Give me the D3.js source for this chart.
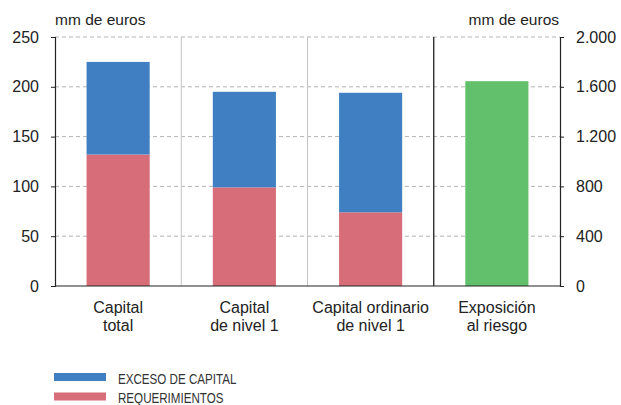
<!DOCTYPE html>
<html><head><meta charset="utf-8">
<script src="https://cdn.jsdelivr.net/npm/d3@7"></script>
<style>
body{margin:0;background:#fff;}
text{font-family:"Liberation Sans",Arial,Helvetica,sans-serif;fill:#222;}
</style></head><body>
<svg id="c" width="621" height="405"></svg>
<script>
// Capital categories (left axis) and risk exposure (right axis)
const categories = [["Capital","total"],["Capital","de nivel 1"],["Capital ordinario","de nivel 1"],["Exposición","al riesgo"]];
const requerimientos = [132, 99, 74];
const excesoCapital = [93, 96, 120];
const exposicion = [1645];
const leftTicks = [0,50,100,150,200,250];
const rightTicks = [0,400,800,1200,1600,2000];
const rightTickLabels = ["0","400","800","1.200","1.600","2.000"];
const legendItems = [{name:"EXCESO DE CAPITAL", color:"#4080c2"},{name:"REQUERIMIENTOS", color:"#d66d78"}];

const svg = d3.select("#c");
const m = {l:55, r:560, t:37, b:286};

const x = d3.scaleBand().domain(d3.range(categories.length)).range([m.l, m.r]).paddingInner(0).paddingOuter(0);
const yL = d3.scaleLinear().domain([0,250]).range([m.b, m.t]);
const yR = d3.scaleLinear().domain([0,2000]).range([m.b, m.t]);

// horizontal dashed grid
svg.append("g").selectAll("line").data(leftTicks.slice(1)).join("line")
  .attr("x1", m.l).attr("x2", m.r).attr("y1", d=>yL(d)).attr("y2", d=>yL(d))
  .attr("stroke", "#b3b3b3").attr("stroke-dasharray", "4,3").attr("stroke-width", 1);

// category separators
const seps = [1,2,3];
svg.append("g").selectAll("line").data(seps).join("line")
  .attr("x1", d=>x(d)).attr("x2", d=>x(d)).attr("y1", m.t).attr("y2", m.b)
  .attr("stroke", d=> d===3 ? "#222" : "#c4c4c4").attr("stroke-width", d=> d===3 ? 1.3 : 1);

const bw = x.bandwidth()*0.5;
const bx = i => x(i) + (x.bandwidth()-bw)/2;

// stacked bars
const g = svg.append("g");
g.selectAll("rect.req").data(requerimientos).join("rect").attr("class","req")
  .attr("x",(d,i)=>bx(i)).attr("width",bw)
  .attr("y",d=>yL(d)).attr("height",d=>yL(0)-yL(d)).attr("fill",legendItems[1].color);
g.selectAll("rect.exc").data(excesoCapital).join("rect").attr("class","exc")
  .attr("x",(d,i)=>bx(i)).attr("width",bw)
  .attr("y",(d,i)=>yL(d+requerimientos[i])).attr("height",(d,i)=>yL(requerimientos[i])-yL(d+requerimientos[i])).attr("fill",legendItems[0].color);
g.selectAll("rect.exp").data(exposicion).join("rect").attr("class","exp")
  .attr("x",(d,i)=>bx(3+i)).attr("width",bw)
  .attr("y",d=>yR(d)).attr("height",d=>yR(0)-yR(d)).attr("fill","#62bf6b");

// axes
const axL = svg.append("g").attr("transform",`translate(${m.l},0)`)
  .call(d3.axisLeft(yL).tickValues(leftTicks).tickSize(4).tickPadding(12));
const axR = svg.append("g").attr("transform",`translate(${m.r},0)`)
  .call(d3.axisRight(yR).tickValues(rightTicks).tickFormat((d,i)=>rightTickLabels[i]).tickSize(4).tickPadding(12));
[axL,axR].forEach(a=>{
  a.select(".domain").attr("stroke","#222").attr("stroke-width",1.2);
  a.selectAll(".tick line").attr("stroke","#222");
  a.selectAll(".tick text").style("font-family","'Liberation Sans',Arial,sans-serif").style("font-size","16px").attr("fill","#222");
});
svg.append("line").attr("x1",m.l).attr("x2",m.r).attr("y1",m.b).attr("y2",m.b).attr("stroke","#222").attr("stroke-width",1.2);

// units
svg.append("text").attr("x",m.l).attr("y",25).style("font-size","15.5px").text("mm de euros");
svg.append("text").attr("x",m.r-1).attr("y",25).attr("text-anchor","end").style("font-size","15.5px").text("mm de euros");

// category labels
const cl = svg.append("g").selectAll("text").data(categories).join("text")
  .attr("text-anchor","middle").attr("x",(d,i)=>x(i)+x.bandwidth()/2).attr("y",313)
  .style("font-size","16px");
cl.selectAll("tspan").data(d=>d).join("tspan")
  .attr("x",function(){return this.parentNode.getAttribute("x");})
  .attr("dy",(d,i)=>i===0?0:17.5).text(d=>d);

// legend (condensed lettering)
const lg = svg.append("g").selectAll("g").data(legendItems).join("g")
  .attr("transform",(d,i)=>`translate(54,${373+i*19.5})`);
lg.append("rect").attr("width",52).attr("height",8).attr("fill",d=>d.color);
lg.append("text").attr("transform","translate(64,10.5) scale(0.8,1)")
  .style("font-size","14.5px").style("fill","#333").text(d=>d.name);
</script></body></html>
